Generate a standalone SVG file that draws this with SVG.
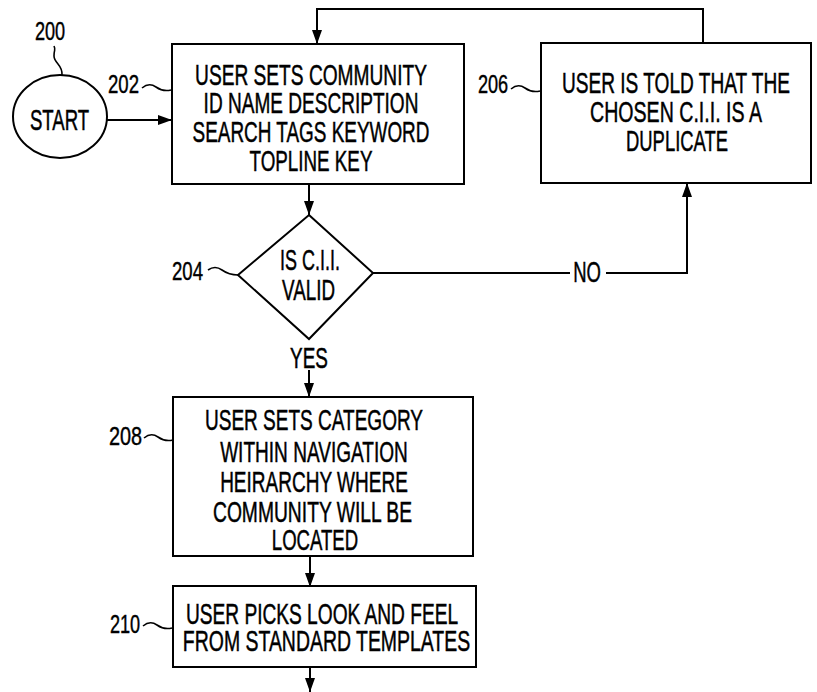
<svg xmlns="http://www.w3.org/2000/svg" width="817" height="692" viewBox="0 0 817 692">
  <style>
    .shape { fill: #fff; stroke: #000; stroke-width: 2; }
    .wire { fill: none; stroke: #000; stroke-width: 2; }
    .lead { fill: none; stroke: #000; stroke-width: 1.6; }
    .t { font-family: "Liberation Sans", Arial, sans-serif; font-size: 30px; fill: #000; stroke: #000; stroke-width: 0.5; text-anchor: middle; }
    .ref { font-family: "Liberation Sans", Arial, sans-serif; font-size: 25px; fill: #000; stroke: #000; stroke-width: 0.4; text-anchor: middle; }
  </style>
  <defs>
    <marker id="arrow" markerUnits="userSpaceOnUse" markerWidth="15" markerHeight="11" refX="14" refY="5" orient="auto">
      <path d="M0,0 L14,5 L0,10 z" fill="#000"/>
    </marker>
  </defs>
  <rect width="817" height="692" fill="#fff"/>

  <!-- connectors -->
  <g id="connectors">
    <line class="wire" x1="107" y1="120" x2="172" y2="120" marker-end="url(#arrow)"/>
    <polyline class="wire" points="703,43 703,9 317,9 317,44" marker-end="url(#arrow)"/>
    <line class="wire" x1="309" y1="184" x2="309" y2="215" marker-end="url(#arrow)"/>
    <polyline class="wire" points="373,273 570,273"/>
    <polyline class="wire" points="606,273 687,273 687,183" marker-end="url(#arrow)"/>
    <line class="wire" x1="309" y1="370" x2="309" y2="397" marker-end="url(#arrow)"/>
    <line class="wire" x1="310" y1="556" x2="310" y2="587" marker-end="url(#arrow)"/>
    <line class="wire" x1="310" y1="667" x2="310" y2="692" marker-end="url(#arrow)"/>
    <text class="t" transform="translate(587,282) scale(0.63,1)" textLength="44" lengthAdjust="spacingAndGlyphs">NO</text>
    <text class="t" transform="translate(309,368) scale(0.63,1)" textLength="60" lengthAdjust="spacingAndGlyphs">YES</text>
  </g>

  <!-- start terminal -->
  <g id="n200">
    <ellipse class="shape" cx="60" cy="116.5" rx="47" ry="41.5"/>
    <text class="t" transform="translate(59.5,130) scale(0.63,1)" textLength="94" lengthAdjust="spacingAndGlyphs">START</text>
    <text class="ref" transform="translate(50,40) scale(0.72,1)" textLength="42" lengthAdjust="spacingAndGlyphs">200</text>
    <path class="lead" d="M62,75 C63,65 54,63 54,56 S56,50 54,46"/>
  </g>

  <!-- step 202 -->
  <g id="n202">
    <rect class="shape" x="172" y="44" width="292" height="140"/>
    <text class="t" transform="translate(311,85) scale(0.63,1)" textLength="368" lengthAdjust="spacingAndGlyphs">USER SETS COMMUNITY</text>
    <text class="t" transform="translate(311,113) scale(0.63,1)" textLength="341" lengthAdjust="spacingAndGlyphs">ID NAME DESCRIPTION</text>
    <text class="t" transform="translate(311,142) scale(0.63,1)" textLength="376" lengthAdjust="spacingAndGlyphs">SEARCH TAGS KEYWORD</text>
    <text class="t" transform="translate(311,171) scale(0.63,1)" textLength="195" lengthAdjust="spacingAndGlyphs">TOPLINE KEY</text>
    <text class="ref" transform="translate(123.5,93) scale(0.72,1)" textLength="43" lengthAdjust="spacingAndGlyphs">202</text>
    <path class="lead" d="M142,88 q7,-6 14,-1 t15,3"/>
  </g>

  <!-- decision 204 -->
  <g id="n204">
    <polygon class="shape" points="309,215 373,273 309,339 238,275"/>
    <text class="t" transform="translate(310,270) scale(0.63,1)" textLength="95" lengthAdjust="spacingAndGlyphs">IS C.I.I.</text>
    <text class="t" transform="translate(308.5,300) scale(0.63,1)" textLength="84" lengthAdjust="spacingAndGlyphs">VALID</text>
    <text class="ref" transform="translate(187.5,280) scale(0.72,1)" textLength="43" lengthAdjust="spacingAndGlyphs">204</text>
    <path class="lead" d="M208,270 q7,-5 14,0 t16,5"/>
  </g>

  <!-- step 206 -->
  <g id="n206">
    <rect class="shape" x="541" y="43" width="270" height="140"/>
    <text class="t" transform="translate(676,93) scale(0.63,1)" textLength="362" lengthAdjust="spacingAndGlyphs">USER IS TOLD THAT THE</text>
    <text class="t" transform="translate(676,122) scale(0.63,1)" textLength="273" lengthAdjust="spacingAndGlyphs">CHOSEN C.I.I. IS A</text>
    <text class="t" transform="translate(677,151) scale(0.63,1)" textLength="162" lengthAdjust="spacingAndGlyphs">DUPLICATE</text>
    <text class="ref" transform="translate(493,93) scale(0.72,1)" textLength="42" lengthAdjust="spacingAndGlyphs">206</text>
    <path class="lead" d="M511,89 q7,-6 14,-1 t15,3"/>
  </g>

  <!-- step 208 -->
  <g id="n208">
    <rect class="shape" x="173" y="397" width="300" height="159"/>
    <text class="t" transform="translate(314,430) scale(0.63,1)" textLength="346" lengthAdjust="spacingAndGlyphs">USER SETS CATEGORY</text>
    <text class="t" transform="translate(314,462) scale(0.63,1)" textLength="298" lengthAdjust="spacingAndGlyphs">WITHIN NAVIGATION</text>
    <text class="t" transform="translate(314,492) scale(0.63,1)" textLength="298" lengthAdjust="spacingAndGlyphs">HEIRARCHY WHERE</text>
    <text class="t" transform="translate(312.5,522) scale(0.63,1)" textLength="316" lengthAdjust="spacingAndGlyphs">COMMUNITY WILL BE</text>
    <text class="t" transform="translate(315,550) scale(0.63,1)" textLength="137" lengthAdjust="spacingAndGlyphs">LOCATED</text>
    <text class="ref" transform="translate(125.5,445) scale(0.72,1)" textLength="46" lengthAdjust="spacingAndGlyphs">208</text>
    <path class="lead" d="M144,438 q7,-6 14,-1 t15,3"/>
  </g>

  <!-- step 210 -->
  <g id="n210">
    <rect class="shape" x="173" y="586" width="303" height="81"/>
    <text class="t" transform="translate(322,624) scale(0.63,1)" textLength="432" lengthAdjust="spacingAndGlyphs">USER PICKS LOOK AND FEEL</text>
    <text class="t" transform="translate(326.5,651) scale(0.63,1)" textLength="456" lengthAdjust="spacingAndGlyphs">FROM STANDARD TEMPLATES</text>
    <text class="ref" transform="translate(125,633) scale(0.72,1)" textLength="42" lengthAdjust="spacingAndGlyphs">210</text>
    <path class="lead" d="M143,626 q7,-6 14,-1 t15,3"/>
  </g>
</svg>
